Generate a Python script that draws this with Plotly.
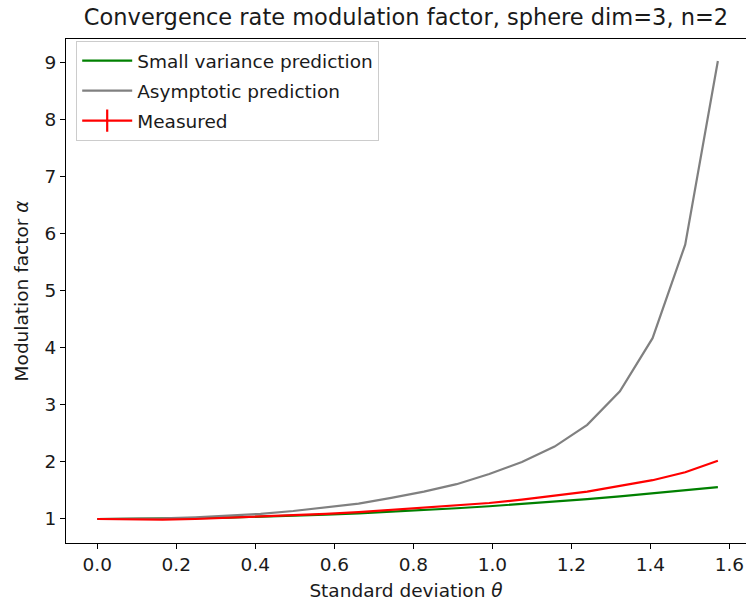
import plotly.graph_objects as go

theta = [0.0, 0.0827, 0.1653, 0.2480, 0.3307, 0.4134, 0.4960, 0.5787, 0.6614, 0.7441,
         0.8267, 0.9094, 0.9921, 1.0748, 1.1574, 1.2401, 1.3228, 1.4055, 1.4881, 1.5708]

small_variance = [1.000, 1.002, 1.006, 1.014, 1.025, 1.039, 1.056, 1.076, 1.099, 1.126,
                  1.155, 1.188, 1.223, 1.262, 1.304, 1.349, 1.397, 1.448, 1.503, 1.560]

asymptotic = [1.00, 1.00, 1.01, 1.03, 1.06, 1.09, 1.14, 1.20, 1.27, 1.37,
              1.48, 1.61, 1.79, 2.00, 2.27, 2.65, 3.24, 4.17, 5.81, 9.03]

measured = [1.00, 0.995, 0.99, 1.00, 1.02, 1.04, 1.07, 1.09, 1.12, 1.16,
            1.19, 1.23, 1.28, 1.34, 1.41, 1.48, 1.58, 1.68, 1.82, 2.02]

x_ticks = [0.0, 0.2, 0.4, 0.6, 0.8, 1.0, 1.2, 1.4, 1.6]
y_ticks = [1, 2, 3, 4, 5, 6, 7, 8, 9]

FONT = "DejaVu Sans"
TXT = "#1a1a1a"

fig = go.Figure()
fig.add_trace(go.Scatter(x=theta, y=small_variance, mode="lines",
                         line=dict(color="#008000", width=2.2),
                         name="Small variance prediction", legendgroup="a"))
fig.add_trace(go.Scatter(x=theta, y=asymptotic, mode="lines",
                         line=dict(color="#808080", width=2.2),
                         name="Asymptotic prediction", legendgroup="b"))
fig.add_trace(go.Scatter(x=theta, y=measured, mode="lines",
                         line=dict(color="#ff0000", width=2.2),
                         name="Measured", showlegend=False, legendgroup="c"))
# legend entry for the measured series (line with error bar glyph)
fig.add_trace(go.Scatter(x=[None], y=[None], mode="lines+markers",
                         line=dict(color="#ff0000", width=2.2),
                         marker=dict(symbol="line-ns", size=22,
                                     line=dict(color="#ff0000", width=2.2)),
                         name="Measured", legendgroup="c"))

fig.update_layout(
    width=746, height=605,
    margin=dict(l=66, r=0, t=39, b=62),
    paper_bgcolor="white", plot_bgcolor="white",
    font=dict(family=FONT, size=18.5, color=TXT),
    title=dict(text="Convergence rate modulation factor, sphere dim=3, n=2",
               x=0.5, xref="paper", y=1 - 17 / 605, yanchor="middle",
               font=dict(family=FONT, size=22.5, color=TXT)),
    showlegend=True,
    legend=dict(x=0.015, y=0.996, xanchor="left", yanchor="top",
                bgcolor="white", bordercolor="#cccccc", borderwidth=1,
                font=dict(family=FONT, size=18.5, color=TXT),
                tracegroupgap=3, itemwidth=50),
    xaxis=dict(range=[-0.0792, 1.642], tickvals=x_ticks,
               ticktext=[f"{v:.1f}" for v in x_ticks],
               showgrid=False, zeroline=False,
               showline=True, linecolor="black", linewidth=1, mirror=True,
               ticks="outside", ticklen=5, tickcolor="black",
               tickfont=dict(family=FONT, size=18.5, color=TXT),
               title=dict(text="Standard deviation <i>θ</i>", standoff=9,
                          font=dict(family=FONT, size=18.5, color=TXT))),
    yaxis=dict(range=[0.579, 9.415], tickvals=y_ticks,
               showgrid=False, zeroline=False,
               showline=True, linecolor="black", linewidth=1, mirror=False,
               ticks="outside", ticklen=5, tickcolor="black",
               tickfont=dict(family=FONT, size=18.5, color=TXT),
               title=dict(text="Modulation factor <i>α</i>", standoff=11,
                          font=dict(family=FONT, size=18.5, color=TXT))),
)

fig.write_html("out.html")
